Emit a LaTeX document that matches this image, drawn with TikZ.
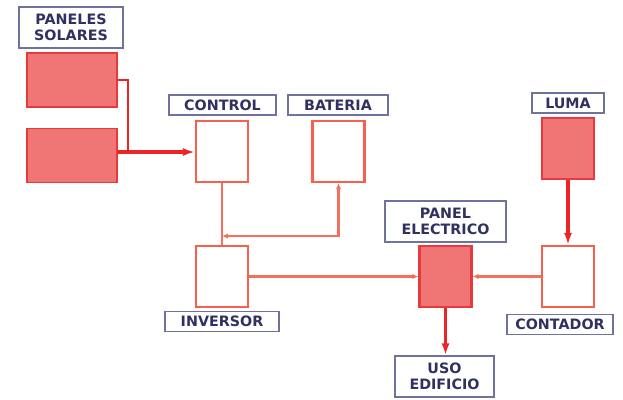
\documentclass[tikz,border=0pt]{standalone}
\usepackage{fontspec}
\newfontfamily\tagfont{DejaVu Sans}
\usetikzlibrary{arrows.meta,positioning,calc}
\definecolor{solarfill}{RGB}{240,117,117}
\definecolor{solardraw}{RGB}{232,58,58}
\definecolor{boxdraw}{RGB}{246,96,76}
\definecolor{wirethin}{RGB}{245,112,92}
\definecolor{wirethick}{RGB}{236,36,36}
\definecolor{tagdraw}{RGB}{112,114,158}
\definecolor{tagtext}{RGB}{48,48,98}
\tikzset{
  tag/.style     ={draw=tagdraw,line width=1.1pt,fill=white,text=tagtext,inner sep=0pt,
                   minimum height=0.6cm,align=center,font=\tagfont\bfseries\fontsize{12.2}{13.6}\selectfont},
  tagtwo/.style  ={tag,minimum height=1.23cm},
  unit/.style    ={draw=boxdraw,line width=1.8pt,fill=white,minimum width=1.56cm,minimum height=1.83cm,inner sep=0pt},
  filled/.style  ={fill=solarfill,draw=solardraw},
  panelbox/.style={filled,draw,line width=1.6pt,minimum width=2.7cm,minimum height=1.62cm,inner sep=0pt},
  thinwire/.style ={wirethin,line width=2pt,-{Latex[length=1.8mm,width=1.6mm]}},
  thickwire/.style={wirethick,line width=2.8pt,-{Latex[length=3.6mm,width=2.4mm]}},
}
\begin{document}
\begin{tikzpicture}
  \useasboundingbox (0,0) rectangle (18.69,-12);
  % etiquetas
  \node[tagtwo,minimum width=3.12cm](solartag) at (2.13,-0.825){PANELES\\SOLARES};
  \node[tag,minimum width=3.21cm](controltag) at (6.675,-3.15){CONTROL};
  \node[tag,minimum width=3.0cm](bateriatag) at (10.14,-3.15){BATERIA};
  \node[tag,minimum width=2.16cm](lumatag) at (17.04,-3.09){LUMA};
  \node[tagtwo,minimum width=3.63cm](paneltag) at (13.365,-6.645){PANEL\\ELECTRICO};
  \node[tag,minimum width=3.42cm](inversortag) at (6.66,-9.645){INVERSOR};
  \node[tag,minimum width=3.18cm](contadortag) at (16.8,-9.735){CONTADOR};
  \node[tagtwo,minimum width=2.97cm](usotag) at (13.335,-11.295){USO\\EDIFICIO};
  % equipos
  \node[panelbox](pan1) at (2.16,-2.4){};
  \node[panelbox](pan2) at (2.16,-4.665){};
  \node[unit](control) at (6.66,-4.545){};
  \node[unit](bateria) at (10.155,-4.545){};
  \node[unit,filled](luma) at (17.04,-4.455){};
  \node[unit](inversor) at (6.66,-8.295){};
  \node[unit,filled](panel) at (13.365,-8.295){};
  \node[unit](contador) at (17.04,-8.295){};
  \coordinate (join) at (3.84,-4.56);
  \coordinate (batjoin) at ($(bateria.south)+(0,-1.59)$);
  % conexiones
  \draw[wirethick,line width=2.4pt](pan1.east)-|(join);
  \draw[thickwire](pan2.east |- join)--(control.west |- join);
  \draw[wirethin,line width=2.2pt](control.south)--(inversor.north);
  \draw[thinwire,{Latex[length=1.8mm,width=1.6mm]}-{Latex[length=1.8mm,width=1.6mm]}](control.south |- batjoin)-|(bateria.south);
  \draw[thinwire](inversor.east)--(panel.west);
  \draw[thinwire](contador.west)--(panel.east);
  \draw[thickwire](luma.south)--(contador.north);
  \draw[thickwire](panel.south)--(panel.south |- usotag.north);
\end{tikzpicture}
\end{document}
